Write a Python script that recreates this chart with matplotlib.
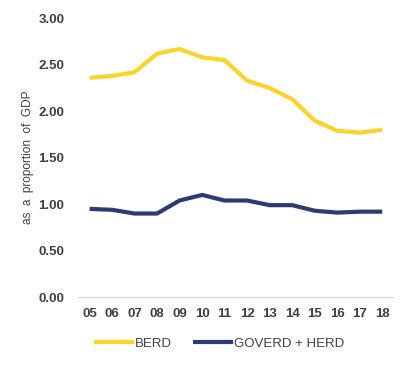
import matplotlib.pyplot as plt
from matplotlib import font_manager

years = ["05", "06", "07", "08", "09", "10", "11", "12", "13", "14", "15", "16", "17", "18"]
berd = [2.36, 2.38, 2.42, 2.62, 2.67, 2.58, 2.55, 2.33, 2.25, 2.13, 1.90, 1.79, 1.77, 1.80]
goverd_herd = [0.95, 0.94, 0.90, 0.90, 1.04, 1.10, 1.04, 1.04, 0.99, 0.99, 0.93, 0.91, 0.92, 0.92]
yticks = [0.0, 0.5, 1.0, 1.5, 2.0, 2.5, 3.0]

names = {f.name for f in font_manager.fontManager.ttflist}
fam = "Liberation Sans Narrow" if "Liberation Sans Narrow" in names else "Liberation Sans"
plt.rcParams["font.family"] = [fam, "DejaVu Sans"]

fig = plt.figure(figsize=(4.12, 3.66), dpi=100)
ax = fig.add_axes([0.19, 0.188, 0.765, 0.762])

x = range(len(years))
ax.plot(x, berd, color="#FDD22B", lw=3, label="BERD", solid_capstyle="butt")
ax.plot(x, goverd_herd, color="#2E3A72", lw=3, label="GOVERD + HERD", solid_capstyle="butt")

ax.set_ylim(0, 3.0)
ax.set_xlim(-0.5, len(years) - 0.5)
ax.set_yticks(yticks)
ax.set_yticklabels([f"{v:.2f}" for v in yticks])
ax.set_xticks(list(x))
ax.set_xticklabels(years)

for s in ["top", "right", "left"]:
    ax.spines[s].set_visible(False)
ax.spines["bottom"].set_color("#D9D9D9")
ax.spines["bottom"].set_linewidth(1)
ax.tick_params(length=0, labelsize=9.5, labelcolor="#404040", pad=8)
for lab in ax.get_xticklabels() + ax.get_yticklabels():
    lab.set_fontweight("bold")
ax.tick_params(axis="y", pad=10)

fig.text(0.068, 0.57, "as  a  proportion  of  GDP", rotation=90, ha="center", va="center",
         fontsize=8.5, color="#404040")

fig.legend(loc="lower left", bbox_to_anchor=(0.2, 0.012), ncol=2, frameon=False,
           fontsize=9.5, handlelength=3.0, handletextpad=0.1, columnspacing=1.6,
           labelcolor="#404040")

fig.savefig("out.png", dpi=100)
